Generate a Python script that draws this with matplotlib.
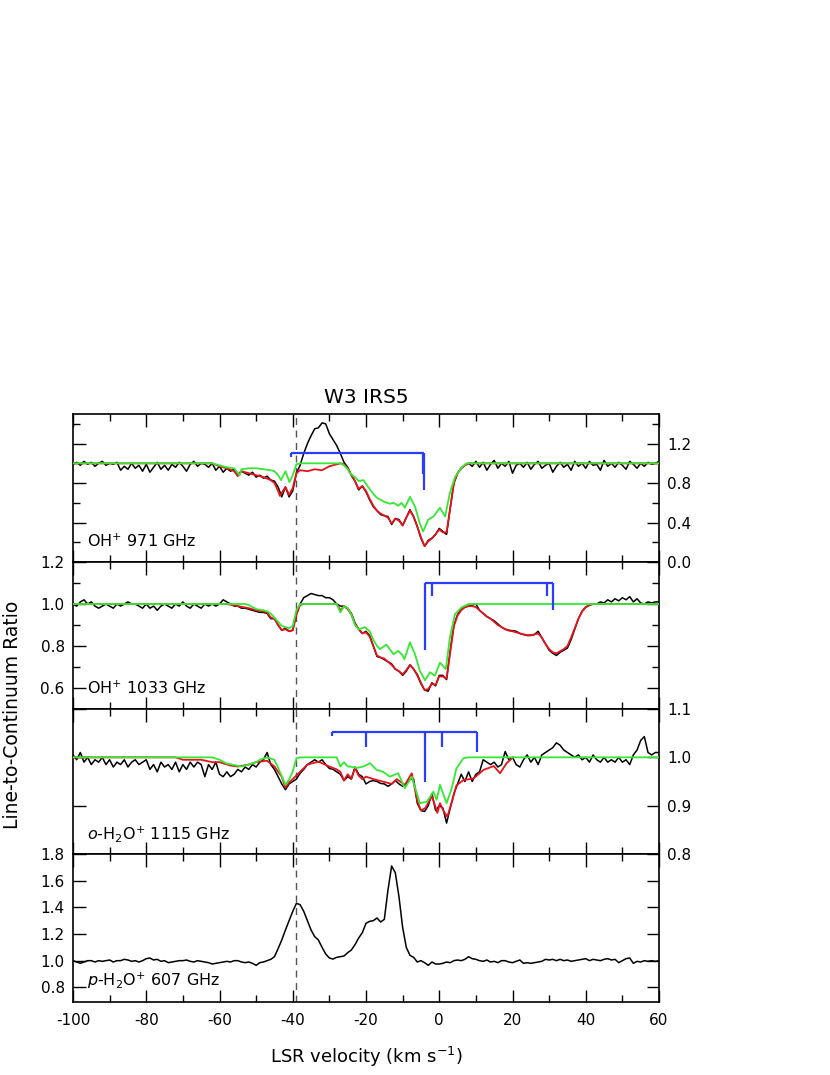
import numpy as np
import matplotlib
matplotlib.use("Agg")
import matplotlib.pyplot as plt
from matplotlib.ticker import MultipleLocator

plt.rcParams['font.family'] = ['DejaVu Sans']

# ---------------- data ----------------
velocity = np.arange(-100, 61)  # km/s

oh971_obs = np.array([
    0.99, 1.01, 0.98, 1.02, 0.99, 1.01, 0.97, 1.00, 1.02, 0.98,
    1.00, 0.99, 1.01, 0.93, 0.97, 0.94, 1.00, 0.95, 0.98, 0.92,
    0.99, 0.91, 0.96, 1.01, 0.94, 0.98, 0.93, 0.99, 0.96, 1.01,
    0.97, 0.92, 0.99, 1.02, 0.97, 1.00, 0.99, 0.96, 1.00, 0.93,
    0.97, 0.91, 0.95, 0.92, 0.94, 0.89, 0.92, 0.90, 0.88, 0.91,
    0.86, 0.88, 0.85, 0.87, 0.83, 0.82, 0.76, 0.66, 0.76, 0.66,
    0.72, 0.90, 0.98, 1.10, 1.20, 1.28, 1.35, 1.36, 1.41, 1.40,
    1.30, 1.24, 1.18, 1.10, 1.01, 0.96, 0.88, 0.82, 0.73, 0.77,
    0.71, 0.63, 0.56, 0.52, 0.48, 0.47, 0.46, 0.38, 0.44, 0.43,
    0.37, 0.45, 0.53, 0.46, 0.36, 0.24, 0.16, 0.22, 0.24, 0.28,
    0.34, 0.31, 0.28, 0.55, 0.80, 0.90, 0.95, 0.98, 1.00, 0.97,
    1.02, 0.96, 1.01, 0.93, 0.99, 1.03, 0.95, 1.00, 0.97, 1.02,
    0.90, 0.98, 1.00, 0.96, 1.01, 0.94, 0.99, 1.02, 0.95, 0.98,
    1.00, 0.91, 0.97, 1.01, 0.96, 0.99, 0.93, 1.02, 0.97, 1.00,
    0.95, 1.02, 0.98, 0.99, 0.93, 1.03, 0.97, 1.00, 0.96, 1.01,
    0.98, 0.94, 1.02, 0.99, 0.95, 1.00, 0.97, 1.01, 0.99, 1.00,
    1.02])

oh1033_obs = np.array([
    1.00, 0.99, 1.01, 1.02, 1.00, 1.01, 0.99, 0.98, 0.99, 1.00,
    0.99, 0.98, 1.00, 0.99, 1.00, 1.01, 1.00, 1.00, 0.99, 0.98,
    1.00, 0.98, 0.99, 0.97, 0.99, 1.00, 0.99, 0.98, 1.00, 0.99,
    1.01, 0.99, 0.98, 1.00, 0.99, 0.98, 1.00, 0.99, 1.00, 0.99,
    1.00, 1.02, 1.01, 1.00, 0.99, 0.99, 0.98, 0.98, 0.975, 0.97,
    0.965, 0.96, 0.96, 0.955, 0.93, 0.93, 0.90, 0.875, 0.885, 0.87,
    0.875, 0.95, 1.00, 1.03, 1.04, 1.05, 1.045, 1.04, 1.04, 1.03,
    1.03, 1.02, 1.00, 0.99, 0.99, 0.98, 0.955, 0.91, 0.88, 0.86,
    0.87, 0.85, 0.80, 0.75, 0.745, 0.735, 0.725, 0.715, 0.69, 0.68,
    0.66, 0.68, 0.71, 0.69, 0.66, 0.62, 0.59, 0.585, 0.625, 0.61,
    0.66, 0.66, 0.64, 0.78, 0.90, 0.95, 0.975, 0.985, 0.99, 0.995,
    1.00, 0.97, 0.955, 0.94, 0.93, 0.92, 0.905, 0.89, 0.88, 0.875,
    0.873, 0.87, 0.86, 0.855, 0.85, 0.85, 0.855, 0.87, 0.84, 0.81,
    0.78, 0.765, 0.755, 0.77, 0.78, 0.79, 0.83, 0.88, 0.93, 0.965,
    0.985, 0.995, 1.00, 1.00, 1.01, 1.005, 1.02, 1.01, 1.025, 1.015,
    1.03, 1.02, 1.035, 1.01, 1.025, 1.005, 1.00, 1.01, 1.005, 1.01,
    1.01])

oh2o1115_obs = np.array([
    1.005, 0.995, 1.01, 0.99, 1.0, 0.985, 0.995, 0.99, 1.0, 0.985,
    0.995, 0.98, 0.99, 0.985, 0.995, 0.98, 0.99, 0.995, 0.985, 0.99,
    0.995, 0.975, 0.985, 0.97, 0.99, 0.98, 0.985, 0.975, 0.99, 0.97,
    0.985, 0.975, 0.99, 0.98, 0.99, 0.985, 0.96, 0.985, 0.975, 0.99,
    0.965, 0.96, 0.97, 0.96, 0.965, 0.975, 0.97, 0.98, 0.975, 0.985,
    0.98, 0.99, 0.995, 1.01, 0.985, 0.975, 0.96, 0.945, 0.933, 0.945,
    0.95, 0.955, 0.967, 0.975, 0.985, 0.99, 0.995, 0.99, 0.995, 0.985,
    0.977, 0.975, 0.97, 0.965, 0.952, 0.96, 0.955, 0.98, 0.965, 0.96,
    0.945, 0.95, 0.952, 0.95, 0.946, 0.945, 0.94, 0.945, 0.952, 0.945,
    0.94, 0.945, 0.955, 0.955, 0.905, 0.89, 0.888, 0.90, 0.925, 0.89,
    0.90, 0.895, 0.864, 0.895, 0.925, 0.945, 0.965, 0.95, 0.97, 0.95,
    0.965, 0.97, 0.995, 0.99, 0.985, 0.99, 0.98, 0.985, 1.012, 0.995,
    1.0, 0.985, 0.98, 0.995, 1.005, 0.99, 1.0, 0.985, 1.005, 1.01,
    1.015, 1.02, 1.03, 1.025, 1.015, 1.01, 1.005, 1.0, 1.005, 0.995,
    1.0, 0.99, 1.005, 0.995, 0.99, 1.0, 0.99, 0.995, 0.99, 1.0,
    0.99, 0.995, 0.985, 1.005, 1.015, 1.035, 1.043, 1.01, 1.005, 1.01,
    1.01])

ph2o607_obs = np.array([
    1.0, 0.99, 0.98, 0.99, 1.0, 1.0, 0.99, 1.0, 0.995, 1.0,
    1.005, 0.99, 1.0, 1.0, 1.01, 1.005, 0.995, 1.0, 0.99, 1.0,
    1.015, 1.02, 1.005, 1.01, 0.995, 1.0, 0.985, 0.99, 0.995, 1.0,
    1.0, 1.005, 0.995, 0.99, 1.0, 0.995, 0.99, 0.985, 0.975, 0.98,
    0.985, 0.99, 0.995, 0.99, 1.0, 1.0, 0.99, 0.985, 0.99, 0.98,
    0.965, 0.985, 0.99, 1.0, 1.01, 1.03, 1.09, 1.155, 1.23, 1.30,
    1.37, 1.43, 1.42, 1.37, 1.30, 1.23, 1.18, 1.155, 1.10, 1.05,
    1.02, 1.012, 1.025, 1.03, 1.035, 1.06, 1.08, 1.12, 1.17, 1.21,
    1.28, 1.295, 1.30, 1.32, 1.29, 1.31, 1.53, 1.71, 1.66, 1.48,
    1.25, 1.10, 1.04, 1.025, 0.99, 1.0, 0.985, 0.965, 0.99, 0.975,
    0.975, 0.98, 0.99, 0.985, 1.0, 1.005, 1.0, 1.01, 1.03, 1.015,
    1.01, 1.0, 0.995, 1.005, 0.99, 0.995, 0.985, 1.0, 1.0, 0.99,
    0.985, 0.995, 1.005, 0.98, 0.985, 0.98, 0.985, 0.99, 0.995, 1.01,
    1.005, 1.01, 1.0, 1.01, 1.0, 1.005, 0.995, 1.0, 1.005, 1.01,
    1.015, 1.0, 1.01, 1.005, 1.0, 1.01, 1.015, 1.005, 1.01, 0.985,
    1.0, 1.015, 1.02, 0.98, 0.995, 0.99, 1.0, 0.995, 1.0, 0.995,
    1.0])

# model fits (red = full fit, green = second model)
oh971_red_v = [-100, -62, -60, -58, -56, -55, -54, -52, -50, -48, -46, -45, -44, -43.5, -42, -41, -40, -39,
               -38, -36, -34, -32, -30, -28, -27, -26, -25, -24, -23, -22, -21, -20, -19, -18, -17, -16,
               -15, -14, -13, -12, -11, -10, -9, -8, -7, -6, -5, -4, -3, -2, -1, 0, 1, 2, 3, 4, 5, 6, 7, 8, 60]
oh971_red = [1.0, 1.0, 0.97, 0.95, 0.92, 0.87, 0.92, 0.90, 0.88, 0.86, 0.83, 0.80, 0.72, 0.67, 0.76, 0.68, 0.75, 0.90,
             0.93, 0.92, 0.94, 0.93, 0.97, 0.99, 1.0, 0.99, 0.95, 0.88, 0.82, 0.74, 0.77, 0.72, 0.64, 0.57, 0.52, 0.49,
             0.47, 0.45, 0.39, 0.44, 0.42, 0.37, 0.45, 0.52, 0.46, 0.36, 0.25, 0.16, 0.21, 0.24, 0.28, 0.33, 0.30, 0.30,
             0.55, 0.80, 0.90, 0.95, 0.98, 1.0, 1.0]
oh971_grn_v = [-100, -62, -60, -58, -56, -55, -54.5, -54, -52, -50, -48, -46, -45, -44, -43.2, -42, -40.9, -40, -39,
               -38, -27, -26, -25, -24.4, -23, -22, -20.7, -19.4, -18, -17, -16, -15, -13.5, -12.5, -11.2, -10.3,
               -9.4, -8, -6.6, -5.3, -4.4, -3, -1.6, 0.2, 1.6, 2.9, 4.3, 6.1, 7.5, 60]
oh971_grn = [1.0, 1.0, 0.98, 0.96, 0.95, 0.90, 0.88, 0.94, 0.95, 0.95, 0.94, 0.93, 0.92, 0.88, 0.83, 0.92, 0.81, 0.88, 0.99,
             1.0, 1.0, 0.98, 0.94, 0.90, 0.86, 0.82, 0.83, 0.76, 0.69, 0.65, 0.63, 0.61, 0.59, 0.60, 0.57, 0.60,
             0.55, 0.66, 0.56, 0.39, 0.31, 0.43, 0.46, 0.55, 0.46, 0.70, 0.86, 0.96, 1.0, 1.0]

oh1033_red_v = [-100, -58, -55, -52, -50, -48, -47, -46, -45, -44, -43, -42, -41, -40, -39, -38, -37, -28, -27, -26,
                -25, -24, -23, -22, -21, -20, -19, -18, -17, -16, -15, -14, -13, -12, -11, -10, -9, -8, -7, -6,
                -5, -4, -3, -2, -1, 0, 1, 2, 3, 4, 5, 6, 7, 8, 9, 10, 11, 12, 13, 14, 15, 16, 17, 18, 19, 20,
                21, 22, 23, 24, 25, 26, 27, 28, 29, 30, 31, 32, 33, 34, 35, 36, 37, 38, 39, 40, 41, 42, 60]
oh1033_red = [1.0, 1.0, 0.99, 0.98, 0.97, 0.965, 0.96, 0.935, 0.93, 0.90, 0.875, 0.88, 0.87, 0.875, 0.95, 0.995, 1.0, 1.0, 0.97, 0.99,
              0.975, 0.95, 0.905, 0.88, 0.86, 0.865, 0.845, 0.80, 0.755, 0.745, 0.74, 0.725, 0.71, 0.69, 0.68, 0.665, 0.685, 0.71, 0.69, 0.665,
              0.625, 0.59, 0.595, 0.62, 0.615, 0.655, 0.655, 0.645, 0.77, 0.895, 0.945, 0.97, 0.985, 0.99, 0.99, 0.985, 0.97, 0.955, 0.94, 0.93,
              0.915, 0.90, 0.89, 0.88, 0.873, 0.87, 0.865, 0.86, 0.855, 0.852, 0.852, 0.855, 0.86, 0.84, 0.81, 0.785, 0.77, 0.765, 0.775, 0.785,
              0.80, 0.84, 0.885, 0.93, 0.965, 0.985, 0.995, 1.0, 1.0]
oh1033_grn_v = [-100, -53, -52, -50, -48, -47, -46, -45, -44, -43, -42, -41, -40, -39, -38, -28, -27, -26, -25, -24,
                -23, -22, -21, -20.3, -19, -18, -17, -16.2, -15, -14.4, -13.5, -12.5, -11.2, -10, -9.5, -8, -6.6,
                -5.3, -3.9, -2.5, -1.2, 0.2, 1.8, 2.9, 4.3, 6.1, 8, 60]
oh1033_grn = [1.0, 1.0, 0.995, 0.976, 0.97, 0.965, 0.955, 0.935, 0.915, 0.896, 0.89, 0.885, 0.895, 0.97, 1.0, 1.0, 0.96, 0.99, 0.98, 0.95,
              0.90, 0.88, 0.885, 0.89, 0.87, 0.83, 0.80, 0.785, 0.80, 0.806, 0.785, 0.761, 0.777, 0.755, 0.737, 0.817, 0.76,
              0.682, 0.637, 0.675, 0.658, 0.721, 0.69, 0.841, 0.952, 0.984, 1.0, 1.0]

oh2o1115_red_v = [-100, -72, -70, -65, -62, -60, -57, -55, -52, -50, -47, -45, -44, -43, -42, -41, -40, -38, -36, -33,
                  -30, -28, -27, -26, -25, -24, -23, -22, -21, -20, -18, -16, -14, -13, -11.6, -9.4, -7.5, -6, -5,
                  -3.8, -2, -0.5, 0.2, 1.1, 2.2, 3.4, 4.7, 6.6, 9.3, 12.1, 14.9, 16.6, 18.4, 20.2]
oh2o1115_red = [1.0, 1.0, 0.995, 0.995, 0.99, 0.99, 0.983, 0.981, 0.985, 0.99, 0.993, 0.981, 0.97, 0.96, 0.937, 0.948, 0.955, 0.97, 0.985, 0.991,
                0.981, 0.975, 0.97, 0.952, 0.965, 0.956, 0.978, 0.962, 0.955, 0.96, 0.955, 0.951, 0.947, 0.945, 0.955, 0.943, 0.967, 0.91, 0.89,
                0.895, 0.92, 0.885, 0.905, 0.89, 0.877, 0.907, 0.942, 0.953, 0.956, 0.974, 0.982, 0.967, 0.988, 1.0]
oh2o1115_grn_v = [-100, -62, -60, -58, -56, -54, -52, -50, -49, -47, -45, -44, -43, -42, -41, -40, -39, -38, -28, -27,
                  -26, -25, -24.4, -22.6, -20.7, -18.9, -17.1, -15.3, -13.5, -11.2, -9.4, -7.5, -5.3, -3.4, -1.6,
                  -0.7, 0.2, 2.0, 3.4, 4.7, 6.6, 8, 60]
oh2o1115_grn = [1.0, 1.0, 0.995, 0.987, 0.984, 0.981, 0.985, 0.99, 0.995, 1.0, 0.995, 0.978, 0.961, 0.943, 0.954, 0.971, 0.998, 1.0, 1.0, 0.981,
                0.99, 0.981, 0.981, 0.978, 0.981, 0.988, 0.974, 0.97, 0.96, 0.967, 0.936, 0.96, 0.905, 0.908, 0.929,
                0.912, 0.943, 0.905, 0.936, 0.977, 0.998, 1.0, 1.0]

# hyperfine-structure combs: (bar level, component velocities, component tip values)
hfs_971_level = 1.10
hfs_971_v = [-40.5, -4.5, -4.1]
hfs_971_tip = [1.06, 0.89, 0.73]
hfs_1033_level = 1.10
hfs_1033_v = [-3.9, -1.9, 29.3, 31.1]
hfs_1033_tip = [0.78, 1.036, 1.036, 0.972]
hfs_1115_level = 1.052
hfs_1115_v = [-29.4, -19.9, -3.9, 0.8, 10.3]
hfs_1115_tip = [1.045, 1.022, 0.950, 1.022, 1.012]

v_marker = -39.0

panel_labels = ["OH$^{+}$ 971 GHz", "OH$^{+}$ 1033 GHz",
                "$\\it{o}$-H$_2$O$^{+}$ 1115 GHz", "$\\it{p}$-H$_2$O$^{+}$ 607 GHz"]

for arr in (oh971_obs, oh1033_obs, oh2o1115_obs, ph2o607_obs):
    assert len(arr) == len(velocity)

# ---------------- figure ----------------
W, H = 830, 1075
fig = plt.figure(figsize=(W / 100, H / 100), dpi=100)

left, right = 73 / W, 659 / W
edges = [414, 562, 709, 854, 1002]
axes = []
for i in range(4):
    b = 1 - edges[i + 1] / H
    h = (edges[i + 1] - edges[i]) / H
    axes.append(fig.add_axes([left, b, right - left, h]))

BLACK = 'black'
RED = '#E8121A'
GREEN = '#35E835'
BLUE = '#2A3CFF'

obs = [oh971_obs, oh1033_obs, oh2o1115_obs, ph2o607_obs]
fits = [((oh971_red_v, oh971_red), (oh971_grn_v, oh971_grn)),
        ((oh1033_red_v, oh1033_red), (oh1033_grn_v, oh1033_grn)),
        ((oh2o1115_red_v, oh2o1115_red), (oh2o1115_grn_v, oh2o1115_grn)),
        None]
combs = [(hfs_971_level, hfs_971_v, hfs_971_tip),
         (hfs_1033_level, hfs_1033_v, hfs_1033_tip),
         (hfs_1115_level, hfs_1115_v, hfs_1115_tip),
         None]
ylims = [(0.0, 1.5), (0.5, 1.2), (0.8, 1.1), (0.69, 1.8)]
ymajor = [0.4, 0.2, 0.1, 0.2]
yminor = [0.2, 0.1, None, None]
label_right = [True, False, True, False]

for i, ax in enumerate(axes):
    ax.plot(velocity, obs[i], color=BLACK, lw=1.1, zorder=3)
    if fits[i] is not None:
        (rv, ry), (gv, gy) = fits[i]
        ax.plot(rv, ry, color=RED, lw=1.3, zorder=4)
        ax.plot(gv, gy, color=GREEN, lw=1.3, zorder=5)
    if combs[i] is not None:
        lvl, cv, ct = combs[i]
        ax.plot([min(cv), max(cv)], [lvl, lvl], color=BLUE, lw=1.6, zorder=6,
                solid_capstyle='butt')
        for x, t in zip(cv, ct):
            ax.plot([x, x], [lvl, t], color=BLUE, lw=1.6, zorder=6, solid_capstyle='butt')
    ax.axvline(v_marker, color='#555555', lw=1.0, ls=(0, (5, 4)), zorder=2)

    ax.set_xlim(-100, 60)
    ax.set_ylim(*ylims[i])
    ax.xaxis.set_major_locator(MultipleLocator(20))
    ax.xaxis.set_minor_locator(MultipleLocator(10))
    ax.yaxis.set_major_locator(MultipleLocator(ymajor[i]))
    if yminor[i]:
        ax.yaxis.set_minor_locator(MultipleLocator(yminor[i]))
    ax.tick_params(which='both', direction='in', top=True, bottom=True, left=True, right=True,
                   width=1.0, labelsize=11)
    ax.tick_params(which='major', length=9)
    ax.tick_params(which='minor', length=5)
    ax.tick_params(axis='y', labelleft=not label_right[i], labelright=label_right[i], pad=6)
    ax.tick_params(axis='x', labelbottom=(i == 3), pad=8)
    for sp in ax.spines.values():
        sp.set_linewidth(1.2)
    ax.yaxis.set_major_formatter(matplotlib.ticker.FormatStrFormatter('%.1f'))
    ax.text(0.024, 0.14, panel_labels[i], transform=ax.transAxes, fontsize=11.5,
            ha='left', va='center', zorder=7)

axes[3].xaxis.set_major_formatter(matplotlib.ticker.FormatStrFormatter('%d'))

fig.text(366 / W, 1 - 397 / H, "W3 IRS5", ha='center', va='center', fontsize=14.5)
fig.text(13 / W, 1 - 715 / H, "Line-to-Continuum Ratio", ha='center', va='center',
         rotation=90, fontsize=13.5)
fig.text(366 / W, 1 - 1057 / H, "LSR velocity (km s$^{-1}$)", ha='center', va='center',
         fontsize=13)

fig.savefig("out.png", dpi=100)
